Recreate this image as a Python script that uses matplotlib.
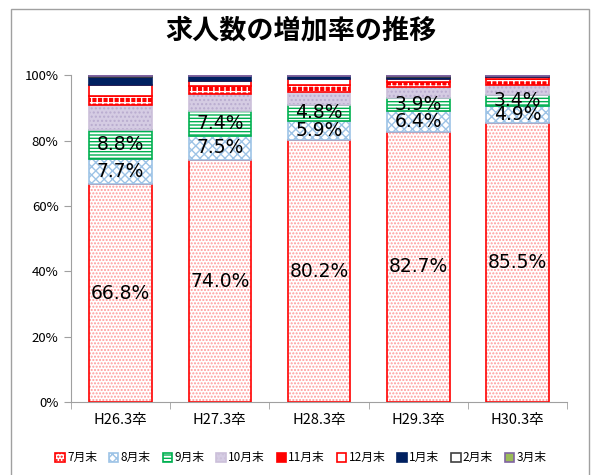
import numpy as np
import matplotlib.pyplot as plt
import matplotlib.patches as mpatches

plt.rcParams['font.family'] = ['Noto Sans CJK JP', 'DejaVu Sans']

# categories and stacked shares (%)
years = ['H26.3卒', 'H27.3卒', 'H28.3卒', 'H29.3卒', 'H30.3卒']
months = ['7月末', '8月末', '9月末', '10月末', '11月末', '12月末', '1月末', '2月末', '3月末']
jul = [66.8, 74.0, 80.2, 82.7, 85.5]
aug = [7.7, 7.5, 5.9, 6.4, 4.9]
sep = [8.8, 7.4, 4.8, 3.9, 3.4]
oct_ = [7.5, 5.2, 4.0, 3.2, 3.1]
nov = [2.8, 2.5, 2.0, 1.6, 1.8]
dec = [3.3, 1.6, 1.8, 1.1, 0.6]
jan = [2.6, 1.5, 1.0, 0.5, 0.3]
feb = [0.2, 0.1, 0.1, 0.2, 0.2]
mar = [0.3, 0.2, 0.2, 0.3, 0.2]
series = [jul, aug, sep, oct_, nov, dec, jan, feb, mar]

# (face, hatch, hatch colour, edge)
styles = [
    ('white', '.....', '#FF9999', '#FF0000'),
    ('white', 'xxxx', '#9DC3E6', '#9DC3E6'),
    ('white', '-----', '#00B050', '#00B050'),
    ('#D5CCE3', '....', '#B9ACCF', '#CCC0DA'),
    ('#FF0000', '+++', 'white', '#FF0000'),
    ('white', None, None, '#FF0000'),
    ('#002060', None, None, '#002060'),
    ('white', None, None, '#404040'),
    ('#9BBB59', None, None, '#8064A2'),
]

plt.rcParams['hatch.linewidth'] = 1.0

fig = plt.figure(figsize=(6.02, 4.75), dpi=100)
ax = fig.add_axes([0.118, 0.153, 0.824, 0.689])

x = np.arange(len(years))
w = 0.63
bottom = np.zeros(len(years))
for vals, (fc, hatch, hc, ec), name in zip(series, styles, months):
    vals = np.array(vals)
    if hatch:
        ax.bar(x, vals, w, bottom=bottom, color=fc, hatch=hatch, edgecolor=hc, linewidth=0)
        ax.bar(x, vals, w, bottom=bottom, fill=False, edgecolor=ec, linewidth=1.2)
    else:
        ax.bar(x, vals, w, bottom=bottom, color=fc, edgecolor=ec, linewidth=1.2)
    bottom += vals

# value labels on the first three segments
base = np.zeros(len(years))
for vals in series[:3]:
    for i, v in enumerate(vals):
        ax.text(x[i], base[i] + v / 2, f'{v:.1f}%', ha='center', va='center',
                fontsize=13.5, family='DejaVu Sans', color='black')
    base += np.array(vals)

ax.set_xlim(-0.5, len(years) - 0.5)
ax.set_ylim(0, 100)
ax.set_yticks(np.arange(0, 101, 20))
ax.set_yticklabels([f'{v}%' for v in range(0, 101, 20)], fontsize=9.5)
ax.set_xticks(x)
ax.set_xticklabels(years, fontsize=10.5)
ax.set_xticks(np.arange(-0.5, len(years), 1), minor=True)
ax.tick_params(axis='x', which='major', length=0, pad=8)
ax.tick_params(axis='x', which='minor', length=5, color='#A0A0A0')
ax.tick_params(axis='y', length=5, color='#A0A0A0', pad=4)
for s in ['top', 'right']:
    ax.spines[s].set_visible(False)
for s in ['left', 'bottom']:
    ax.spines[s].set_color('#A0A0A0')

fig.text(0.5, 0.935, '求人数の増加率の推移', ha='center', va='center',
         fontsize=19.5, fontweight='bold')

# legend with pattern swatches
leg_handles = []
for (fc, hatch, hc, ec), name in zip(styles, months):
    leg_handles.append(mpatches.Patch(facecolor=fc, edgecolor=ec, hatch=hatch,
                                      linewidth=1.2, label=name))
fig.legend(handles=leg_handles, loc='center', bbox_to_anchor=(0.5, 0.036), ncol=9,
           frameon=False, fontsize=8.5, handlelength=0.8, handleheight=0.8,
           handletextpad=0.2, columnspacing=1.0)

fig.patches.append(mpatches.Rectangle((11 / 602, -0.1), 578 / 602, 1.1 - 9 / 475,
                                      transform=fig.transFigure, fill=False,
                                      edgecolor='#A0A0A0', linewidth=1))

fig.savefig('out.png', dpi=100)
